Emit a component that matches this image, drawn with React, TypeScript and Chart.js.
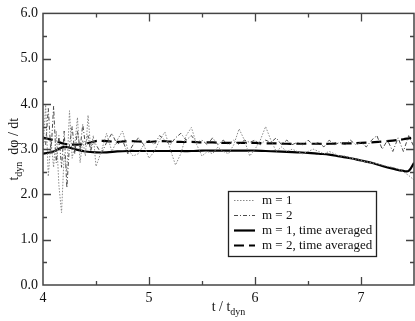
import React, { useEffect, useRef } from "react";
import { Chart, registerables } from "chart.js";

Chart.register(...registerables);

const tNoisy = [
  4.0, 4.025, 4.05, 4.075, 4.1, 4.125, 4.15, 4.175, 4.2, 4.225, 4.25, 4.275, 4.3, 4.325, 4.35, 4.375, 4.4, 4.425, 4.45, 4.475, 4.5,
  4.55, 4.6, 4.65, 4.7, 4.75, 4.8, 4.85, 4.9, 4.95, 5.0, 5.05, 5.1, 5.15, 5.2, 5.25, 5.3, 5.35, 5.4, 5.45, 5.5,
  5.55, 5.6, 5.65, 5.7, 5.75, 5.8, 5.85, 5.9, 5.95, 6.0, 6.05, 6.1, 6.15, 6.2, 6.25, 6.3, 6.35, 6.4, 6.45, 6.5,
  6.55, 6.6, 6.65, 6.7, 6.75, 6.8, 6.85, 6.9, 6.95, 7.0, 7.05, 7.1, 7.15, 7.2, 7.25, 7.3, 7.35, 7.4, 7.45, 7.5,
];

const m1 = [
  3.0, 3.98, 2.4, 3.2, 2.6, 3.4, 2.2, 1.6, 2.9, 2.5, 3.85, 2.8, 3.1, 3.7, 2.7, 3.2, 2.85, 3.75, 3.0, 3.3, 2.62,
  2.95, 3.35, 2.95, 3.2, 3.4, 3.0, 2.85, 2.9, 3.1, 2.8, 2.95, 3.2, 3.38, 3.0, 2.65, 2.9, 3.3, 3.48, 3.1, 2.85,
  2.95, 2.9, 3.05, 2.95, 2.9, 3.1, 3.45, 3.2, 2.85, 3.0, 3.2, 3.5, 3.2, 2.95, 3.05, 2.95, 3.0, 2.95, 2.9, 2.95,
  3.0, 2.95, 2.9, 2.95, 2.9, 2.85, 2.85, 2.8, 2.78, 2.75, 2.72, 2.7, 2.68, 2.65, 2.62, 2.6, 2.56, 2.5, 2.42, 2.32,
];

const m2 = [
  3.3, 3.1, 3.9, 2.9, 3.95, 2.7, 3.3, 2.6, 3.4, 2.15, 3.1, 3.5, 2.9, 3.4, 3.0, 3.55, 3.1, 3.3, 2.95, 3.2, 3.1,
  2.9, 3.15, 3.35, 3.1, 3.2, 2.9, 3.1, 3.25, 3.1, 3.2, 3.1, 3.3, 3.2, 3.1, 3.25, 3.35, 3.2, 3.3, 3.15, 3.2,
  3.1, 3.25, 3.1, 3.2, 3.1, 3.2, 3.1, 3.2, 3.15, 3.2, 3.1, 3.2, 3.15, 3.25, 3.1, 3.2, 3.1, 3.15, 3.1, 3.2,
  3.1, 3.15, 3.05, 3.2, 3.1, 3.15, 3.1, 3.2, 3.1, 3.15, 3.05, 3.2, 3.3, 3.0, 3.2, 2.95, 3.25, 2.95, 3.3, 3.05,
];

const tAvg = [
  4.0, 4.1, 4.2, 4.3, 4.4, 4.5, 4.6, 4.7, 4.8, 4.9, 5.0, 5.1, 5.2, 5.3, 5.4, 5.5, 5.6, 5.7, 5.8, 5.9,
  6.0, 6.1, 6.2, 6.3, 6.4, 6.5, 6.6, 6.7, 6.8, 6.9, 7.0, 7.1, 7.2, 7.3, 7.4, 7.45, 7.5,
];

const avg1 = [
  2.9, 2.95, 3.05, 3.0, 2.95, 2.93, 2.93, 2.95, 2.96, 2.96, 2.96, 2.96, 2.96, 2.96, 2.96, 2.97, 2.97, 2.97, 2.97, 2.97,
  2.97, 2.96, 2.95, 2.94, 2.93, 2.92, 2.9, 2.88, 2.84, 2.8, 2.75, 2.7, 2.63, 2.57, 2.52, 2.52, 2.7,
];

const avg2 = [
  3.25, 3.2, 3.12, 3.1, 3.12, 3.18, 3.18, 3.16, 3.18, 3.17, 3.16, 3.18, 3.17, 3.16, 3.16, 3.15, 3.15, 3.14, 3.14, 3.14,
  3.14, 3.13, 3.13, 3.12, 3.12, 3.12, 3.12, 3.12, 3.13, 3.13, 3.14, 3.15, 3.17, 3.19, 3.22, 3.24, 3.26,
];

const xTickValues = [4, 5, 6, 7];
const legendLabels = ["m = 1", "m = 2", "m = 1, time averaged", "m = 2, time averaged"];

const FONT = "'Liberation Serif', 'DejaVu Serif', serif";

const pts = (xs: number[], ys: number[]) => xs.map((x, i) => ({ x, y: ys[i] }));

const styles = [
  { color: "#8a8a8a", width: 1, dash: [1.5, 1.5] },
  { color: "#4a4a4a", width: 1, dash: [4, 2, 1, 2] },
  { color: "#000000", width: 2.2, dash: [] as number[] },
  { color: "#000000", width: 2.2, dash: [10, 5] },
];

const framePlugin = {
  id: "frame",
  afterDraw(chart: any) {
    const { ctx, chartArea: a, scales } = chart;
    const xs = scales.x;
    const ys = scales.y;
    ctx.save();
    ctx.strokeStyle = "#444";
    ctx.lineWidth = 1.5;
    ctx.setLineDash([]);
    ctx.strokeRect(a.left, a.top, a.right - a.left, a.bottom - a.top);
    ctx.lineWidth = 1.3;
    for (let v = 4; v <= 7.5001; v += 0.5) {
      const major = Math.abs(v - Math.round(v)) < 1e-6;
      const len = major ? 8 : 4;
      const px = Math.round(xs.getPixelForValue(v)) + 0.5;
      if (px <= a.left + 1 || px >= a.right - 1) continue;
      ctx.beginPath();
      ctx.moveTo(px, a.bottom);
      ctx.lineTo(px, a.bottom - len);
      ctx.moveTo(px, a.top);
      ctx.lineTo(px, a.top + len);
      ctx.stroke();
    }
    for (let v = 0; v <= 6.0001; v += 0.5) {
      const major = Math.abs(v - Math.round(v)) < 1e-6;
      const len = major ? 8 : 4;
      const py = Math.round(ys.getPixelForValue(v)) + 0.5;
      if (py <= a.top + 1 || py >= a.bottom - 1) continue;
      ctx.beginPath();
      ctx.moveTo(a.left, py);
      ctx.lineTo(a.left + len, py);
      ctx.moveTo(a.right, py);
      ctx.lineTo(a.right - len, py);
      ctx.stroke();
    }

    // legend box
    const lx = 228, ly = 191, lw = 148, lh = 65;
    ctx.fillStyle = "#fff";
    ctx.fillRect(lx, ly, lw, lh);
    ctx.strokeStyle = "#222";
    ctx.lineWidth = 1.3;
    ctx.strokeRect(lx + 0.5, ly + 0.5, lw, lh);
    ctx.font = `13px ${FONT}`;
    ctx.textBaseline = "middle";
    ctx.textAlign = "left";
    legendLabels.forEach((label, i) => {
      const y = ly + 9 + i * 15;
      const s = styles[i];
      ctx.strokeStyle = s.color;
      ctx.lineWidth = s.width;
      ctx.setLineDash(s.dash);
      ctx.beginPath();
      ctx.moveTo(lx + 6, y + 0.5);
      ctx.lineTo(lx + 27, y + 0.5);
      ctx.stroke();
      ctx.setLineDash([]);
      ctx.fillStyle = "#111";
      ctx.fillText(label, lx + 34, y + 1);
    });

    // axis titles with subscripts
    ctx.fillStyle = "#111";
    const big = `14px ${FONT}`;
    const small = `10px ${FONT}`;
    const xParts: [string, string, number][] = [["t / t", big, 0], ["dyn", small, 4]];
    let total = 0;
    xParts.forEach(([t, f]) => { ctx.font = f; total += ctx.measureText(t).width; });
    let cx = (a.left + a.right) / 2 - total / 2;
    const ty = 311;
    ctx.textBaseline = "alphabetic";
    xParts.forEach(([t, f, off]) => {
      ctx.font = f;
      ctx.fillText(t, cx, ty + off);
      cx += ctx.measureText(t).width;
    });
    const yParts: [string, string, number][] = [["t", big, 0], ["dyn", small, 4], ["  dφ / dt", big, 0]];
    total = 0;
    yParts.forEach(([t, f]) => { ctx.font = f; total += ctx.measureText(t).width; });
    ctx.translate(18, (a.top + a.bottom) / 2);
    ctx.rotate(-Math.PI / 2);
    let cy = -total / 2;
    yParts.forEach(([t, f, off]) => {
      ctx.font = f;
      ctx.fillText(t, cy, off);
      cy += ctx.measureText(t).width;
    });
    ctx.restore();
  },
};

export default function App() {
  const ref = useRef<HTMLCanvasElement>(null);
  useEffect(() => {
    document.body.style.margin = "0";
    const chart = new Chart(ref.current as HTMLCanvasElement, {
      type: "line",
      data: {
        datasets: [
          { label: legendLabels[0], data: pts(tNoisy, m1), borderColor: styles[0].color, borderWidth: styles[0].width, borderDash: styles[0].dash, pointRadius: 0, tension: 0 },
          { label: legendLabels[1], data: pts(tNoisy, m2), borderColor: styles[1].color, borderWidth: styles[1].width, borderDash: styles[1].dash, pointRadius: 0, tension: 0 },
          { label: legendLabels[2], data: pts(tAvg, avg1), borderColor: styles[2].color, borderWidth: styles[2].width, pointRadius: 0, tension: 0.4 },
          { label: legendLabels[3], data: pts(tAvg, avg2), borderColor: styles[3].color, borderWidth: styles[3].width, borderDash: styles[3].dash, pointRadius: 0, tension: 0.4 },
        ],
      },
      options: {
        animation: false,
        responsive: false,
        maintainAspectRatio: false,
        layout: { padding: { top: 6, right: 1, left: 0, bottom: 0 } },
        plugins: { legend: { display: false }, tooltip: { enabled: false } },
        scales: {
          x: {
            type: "linear",
            min: 4,
            max: 7.5,
            grid: { display: false, drawTicks: false },
            border: { display: false },
            afterBuildTicks: (s: any) => { s.ticks = xTickValues.map((v) => ({ value: v })); },
            afterFit: (s: any) => { s.height = 36; },
            ticks: { padding: 5, color: "#111", font: { family: FONT, size: 14 }, maxRotation: 0, callback: (v: any) => String(v) },
          },
          y: {
            type: "linear",
            min: 0,
            max: 6,
            grid: { display: false, drawTicks: false },
            border: { display: false },
            afterFit: (s: any) => { s.width = 43; },
            ticks: { stepSize: 1, padding: 5, color: "#111", font: { family: FONT, size: 14 }, callback: (v: any) => Number(v).toFixed(1) },
          },
        },
      },
      plugins: [framePlugin],
    });
    return () => chart.destroy();
  }, []);
  return (
    <div style={{ position: "absolute", left: 0, top: 0, width: 415, height: 321 }}>
      <canvas ref={ref} width={415} height={321} style={{ width: 415, height: 321 }} />
    </div>
  );
}
